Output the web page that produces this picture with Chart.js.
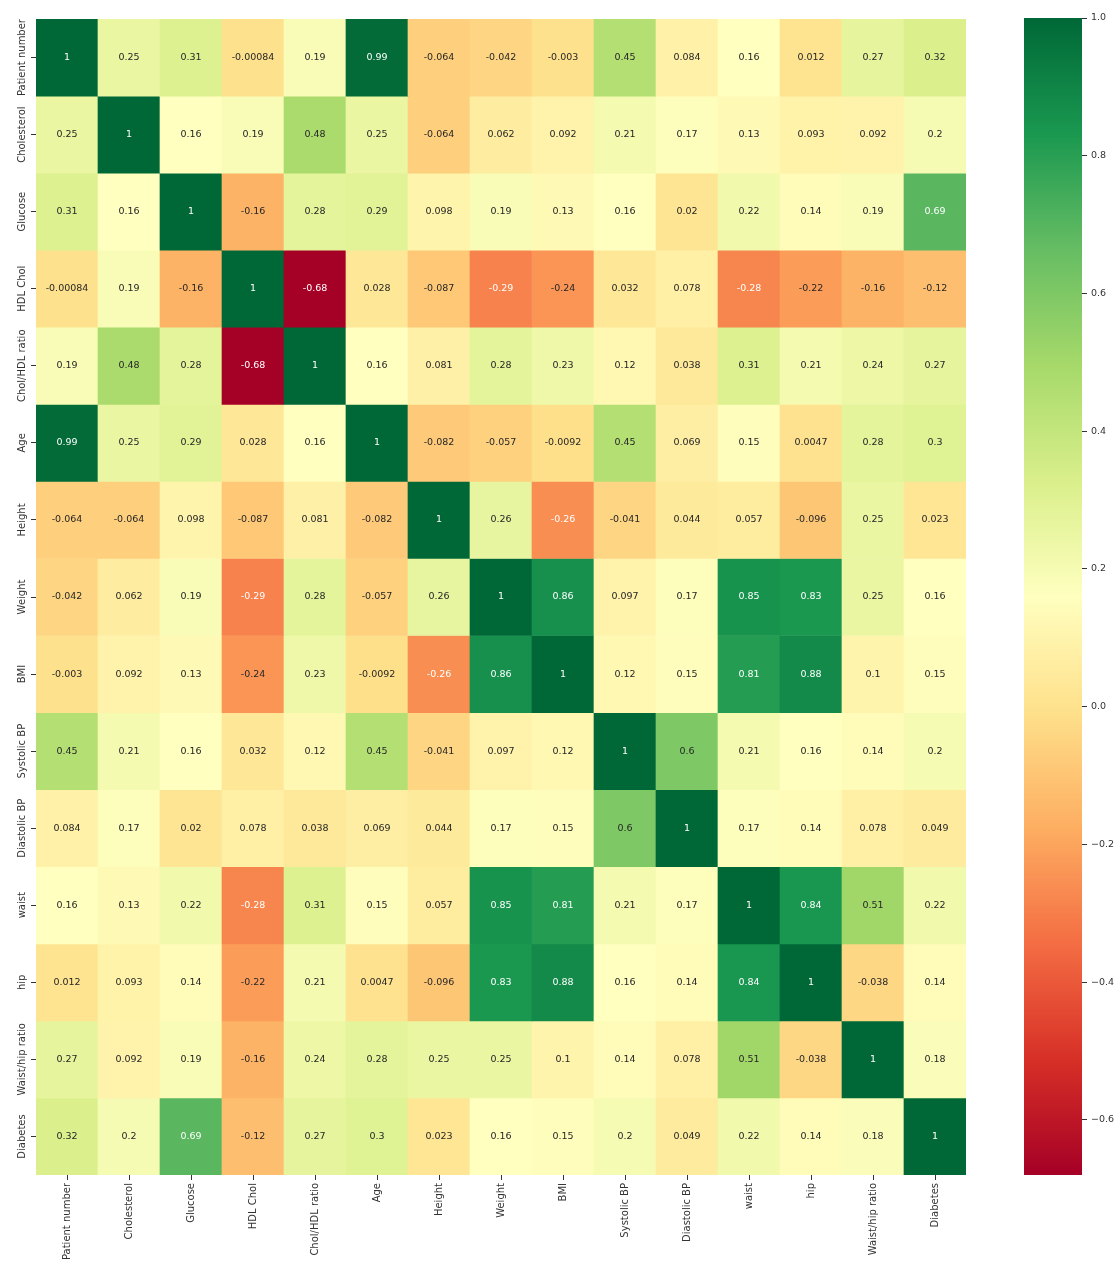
<!DOCTYPE html>
<html lang="en">
<head>
<meta charset="UTF-8">
<title>Correlation heatmap</title>
<style>
  body { margin: 0; background: #fff; }
  #wrap { position: relative; width: 1117px; height: 1261px; }
  #heatBox { position: absolute; left: 0; top: 0; width: 1000px; height: 1261px; }
  #barBox { position: absolute; left: 1024px; top: 0; width: 93px; height: 1261px; }
</style>
</head>
<body>
<div id="wrap">
  <div id="heatBox"><canvas id="heat"></canvas></div>
  <div id="barBox"><canvas id="cbar"></canvas></div>
</div>

<script src="https://cdn.jsdelivr.net/npm/chart.js"></script>
<script>
// column / row names
const names = ["Patient number", "Cholesterol", "Glucose", "HDL Chol", "Chol/HDL ratio", "Age", "Height",
  "Weight", "BMI", "Systolic BP", "Diastolic BP", "waist", "hip", "Waist/hip ratio", "Diabetes"];

// one row of the correlation matrix per array
const patientNumber = [1, 0.25, 0.31, -0.00084, 0.19, 0.99, -0.064, -0.042, -0.003, 0.45, 0.084, 0.16, 0.012, 0.27, 0.32];
const cholesterol   = [0.25, 1, 0.16, 0.19, 0.48, 0.25, -0.064, 0.062, 0.092, 0.21, 0.17, 0.13, 0.093, 0.092, 0.2];
const glucose       = [0.31, 0.16, 1, -0.16, 0.28, 0.29, 0.098, 0.19, 0.13, 0.16, 0.02, 0.22, 0.14, 0.19, 0.69];
const hdlChol       = [-0.00084, 0.19, -0.16, 1, -0.68, 0.028, -0.087, -0.29, -0.24, 0.032, 0.078, -0.28, -0.22, -0.16, -0.12];
const cholHdlRatio  = [0.19, 0.48, 0.28, -0.68, 1, 0.16, 0.081, 0.28, 0.23, 0.12, 0.038, 0.31, 0.21, 0.24, 0.27];
const age           = [0.99, 0.25, 0.29, 0.028, 0.16, 1, -0.082, -0.057, -0.0092, 0.45, 0.069, 0.15, 0.0047, 0.28, 0.3];
const height        = [-0.064, -0.064, 0.098, -0.087, 0.081, -0.082, 1, 0.26, -0.26, -0.041, 0.044, 0.057, -0.096, 0.25, 0.023];
const weight        = [-0.042, 0.062, 0.19, -0.29, 0.28, -0.057, 0.26, 1, 0.86, 0.097, 0.17, 0.85, 0.83, 0.25, 0.16];
const bmi           = [-0.003, 0.092, 0.13, -0.24, 0.23, -0.0092, -0.26, 0.86, 1, 0.12, 0.15, 0.81, 0.88, 0.1, 0.15];
const systolicBP    = [0.45, 0.21, 0.16, 0.032, 0.12, 0.45, -0.041, 0.097, 0.12, 1, 0.6, 0.21, 0.16, 0.14, 0.2];
const diastolicBP   = [0.084, 0.17, 0.02, 0.078, 0.038, 0.069, 0.044, 0.17, 0.15, 0.6, 1, 0.17, 0.14, 0.078, 0.049];
const waist         = [0.16, 0.13, 0.22, -0.28, 0.31, 0.15, 0.057, 0.85, 0.81, 0.21, 0.17, 1, 0.84, 0.51, 0.22];
const hip           = [0.012, 0.093, 0.14, -0.22, 0.21, 0.0047, -0.096, 0.83, 0.88, 0.16, 0.14, 0.84, 1, -0.038, 0.14];
const waistHipRatio = [0.27, 0.092, 0.19, -0.16, 0.24, 0.28, 0.25, 0.25, 0.1, 0.14, 0.078, 0.51, -0.038, 1, 0.18];
const diabetes      = [0.32, 0.2, 0.69, -0.12, 0.27, 0.3, 0.023, 0.16, 0.15, 0.2, 0.049, 0.22, 0.14, 0.18, 1];

const matrix = [patientNumber, cholesterol, glucose, hdlChol, cholHdlRatio, age, height, weight, bmi,
  systolicBP, diastolicBP, waist, hip, waistHipRatio, diabetes];

// colour bar range and ticks
const vmin = -0.68;
const vmax = 1.0;
const cbTicks = [-0.6, -0.4, -0.2, 0.0, 0.2, 0.4, 0.6, 0.8, 1.0];

// RdYlGn
const palette = ["#a50026", "#d73027", "#f46d43", "#fdae61", "#fee08b", "#ffffbf",
  "#d9ef8b", "#a6d96a", "#66bd63", "#1a9850", "#006837"];

function hexRgb(h) {
  return [parseInt(h.slice(1, 3), 16), parseInt(h.slice(3, 5), 16), parseInt(h.slice(5, 7), 16)];
}
const paletteRgb = palette.map(hexRgb);

function cmapRgb(v) {
  let t = (v - vmin) / (vmax - vmin);
  t = Math.max(0, Math.min(1, t));
  let p = t * (palette.length - 1);
  let i = Math.min(Math.floor(p), palette.length - 2);
  let f = p - i;
  let a = paletteRgb[i], b = paletteRgb[i + 1];
  return [0, 1, 2].map(k => a[k] + (b[k] - a[k]) * f);
}
function cmap(v) {
  let c = cmapRgb(v);
  return "rgb(" + c.map(Math.round).join(",") + ")";
}
// same rule seaborn uses to pick the annotation colour
function textColor(v) {
  let c = cmapRgb(v).map(x => {
    x = x / 255;
    return x <= 0.03928 ? x / 12.92 : Math.pow((x + 0.055) / 1.055, 2.4);
  });
  let lum = 0.2126 * c[0] + 0.7152 * c[1] + 0.0722 * c[2];
  return lum > 0.408 ? "#262626" : "#ffffff";
}

const labelColor = "#333333";
const fontFam = "'DejaVu Sans', sans-serif";

let datasets = [];
for (let r = 0; r < matrix.length; r++) {
  datasets.push({
    label: names[r],
    data: names.map(() => [r - 0.5, r + 0.5]),
    backgroundColor: matrix[r].map(cmap),
    borderWidth: 0,
    barPercentage: 1,
    categoryPercentage: 1,
    grouped: false
  });
}

// values written in the cells + row names on the left
const annotate = {
  id: "annotate",
  afterDatasetsDraw(chart) {
    const ctx = chart.ctx;
    const xs = chart.scales.x, ys = chart.scales.y;
    ctx.save();
    ctx.font = "9.5px " + fontFam;
    ctx.textAlign = "center";
    ctx.textBaseline = "middle";
    for (let r = 0; r < matrix.length; r++) {
      for (let c = 0; c < matrix[r].length; c++) {
        ctx.fillStyle = textColor(matrix[r][c]);
        ctx.fillText(String(matrix[r][c]), xs.getPixelForValue(c), ys.getPixelForValue(r));
      }
    }
    ctx.restore();
  },
  afterDraw(chart) {
    const ctx = chart.ctx;
    const ys = chart.scales.y;
    const x = chart.chartArea.left - 14;
    ctx.save();
    ctx.font = "10px " + fontFam;
    ctx.fillStyle = labelColor;
    ctx.textAlign = "center";
    ctx.textBaseline = "middle";
    for (let r = 0; r < names.length; r++) {
      ctx.save();
      ctx.translate(x, ys.getPixelForValue(r));
      ctx.rotate(-Math.PI / 2);
      ctx.fillText(names[r], 0, 0);
      ctx.restore();
    }
    ctx.restore();
  }
};

new Chart(document.getElementById("heat"), {
  type: "bar",
  data: { labels: names, datasets: datasets },
  options: {
    responsive: true,
    maintainAspectRatio: false,
    animation: false,
    layout: { padding: { top: 19, right: 34, left: 0, bottom: 0 } },
    plugins: { legend: { display: false }, tooltip: { enabled: false } },
    scales: {
      x: {
        type: "category",
        offset: true,
        border: { display: false },
        grid: { offset: false, drawOnChartArea: false, drawTicks: true, tickLength: 5, color: labelColor },
        ticks: {
          autoSkip: false, minRotation: 90, maxRotation: 90, padding: 3,
          color: labelColor, font: { family: fontFam, size: 10 }
        },
        afterFit(scale) { scale.height = 86; }
      },
      y: {
        type: "linear",
        reverse: true,
        min: -0.5,
        max: 14.5,
        border: { display: false },
        grid: { drawOnChartArea: false, drawTicks: true, tickLength: 5, color: labelColor },
        ticks: { display: false },
        afterBuildTicks(scale) { scale.ticks = names.map((n, i) => ({ value: i })); },
        afterFit(scale) { scale.width = 36; }
      }
    }
  },
  plugins: [annotate]
});

// colour bar
new Chart(document.getElementById("cbar"), {
  type: "bar",
  data: {
    labels: ["corr"],
    datasets: [{
      data: [[vmin, vmax]],
      barPercentage: 1,
      categoryPercentage: 1,
      borderWidth: 0,
      backgroundColor(context) {
        const chart = context.chart;
        const area = chart.chartArea;
        if (!area) return palette[5];
        const g = chart.ctx.createLinearGradient(0, area.bottom, 0, area.top);
        palette.forEach((col, i) => g.addColorStop(i / (palette.length - 1), col));
        return g;
      }
    }]
  },
  options: {
    responsive: true,
    maintainAspectRatio: false,
    animation: false,
    layout: { padding: { top: 18, bottom: 86, left: 0, right: 0 } },
    plugins: { legend: { display: false }, tooltip: { enabled: false } },
    scales: {
      x: { display: false },
      y: {
        position: "right",
        min: vmin,
        max: vmax,
        border: { display: false },
        grid: { drawOnChartArea: false, drawTicks: true, tickLength: 5, color: labelColor },
        ticks: {
          padding: 4,
          color: labelColor,
          font: { family: fontFam, size: 9.5 },
          callback: v => (v < -1e-9 ? "\u2212" : "") + Math.abs(v).toFixed(1)
        },
        afterBuildTicks(scale) { scale.ticks = cbTicks.map(v => ({ value: v })); },
        afterFit(scale) { scale.width = 35; }
      }
    }
  }
});
</script>
</body>
</html>
